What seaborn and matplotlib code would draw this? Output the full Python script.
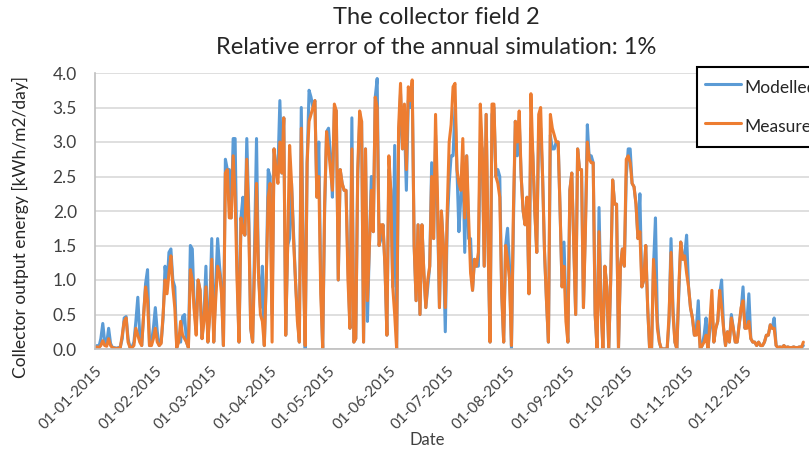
import matplotlib
matplotlib.use("Agg")
import matplotlib.pyplot as plt
import seaborn as sns
import pandas as pd
import numpy as np

# ---- data (daily values, kWh/m2/day) ----
start_date = "2015-01-01"
series_names = ["Modelled", "Measured"]
title_lines = ["The collector field 2", "Relative error of the annual simulation: 1%"]

modelled = [
    # Jan
    0.02, 0.05, 0.03, 0.15, 0.37, 0.10, 0.08, 0.30, 0.08, 0.02, 0.02, 0.01, 0.02, 0.03, 0.15, 0.45,
    0.47, 0.15, 0.02, 0.03, 0.10, 0.40, 0.75, 0.20, 0.05, 0.50, 0.95, 1.15, 0.05, 0.10, 0.30,
    # Feb
    0.60, 0.25, 0.05, 0.10, 0.45, 1.20, 0.90, 1.40, 1.45, 1.00, 0.90, 0.02, 0.15, 0.10, 0.47, 0.50,
    0.10, 0.02, 1.50, 1.45, 0.60, 0.30, 1.00, 0.85, 0.15, 0.50, 1.20, 0.10,
    # Mar
    0.60, 1.60, 0.10, 0.90, 1.60, 1.20, 0.90, 0.05, 2.75, 2.60, 2.60, 1.90, 3.05, 3.05, 1.20, 0.10,
    1.90, 2.20, 1.65, 3.05, 2.00, 0.30, 0.10, 1.50, 3.05, 1.10, 0.60, 1.20, 0.05, 1.00, 2.60,
    # Apr
    2.50, 0.50, 2.90, 2.60, 2.60, 3.60, 2.55, 3.35, 0.20, 1.50, 1.60, 2.40, 1.70, 1.00, 0.50, 0.10,
    3.50, 1.50, 0.00, 2.70, 3.75, 3.65, 3.50, 3.60, 2.20, 3.00, 1.00, 0.00, 2.00, 3.15,
    # May
    3.20, 2.80, 2.20, 3.50, 3.45, 1.00, 2.60, 2.40, 2.30, 2.30, 1.20, 0.30, 3.35, 0.10, 0.15, 2.50,
    3.30, 3.30, 0.10, 2.90, 0.40, 1.50, 2.50, 1.70, 3.65, 3.92, 1.50, 1.60, 1.80, 1.20, 0.20,
    # Jun
    2.60, 2.30, 0.90, 2.95, 0.00, 3.00, 3.70, 2.90, 3.30, 2.30, 3.60, 3.50, 3.80, 1.50, 0.70, 1.80,
    0.50, 1.80, 1.10, 0.60, 0.90, 1.20, 2.70, 1.60, 3.10, 2.00, 0.60, 2.00, 1.50, 0.25,
    # Jul
    1.80, 2.40, 2.80, 2.80, 3.50, 2.60, 1.70, 2.20, 2.80, 1.40, 2.80, 1.60, 1.60, 0.85, 1.30, 1.20,
    1.20, 3.00, 2.90, 1.20, 3.40, 1.50, 0.10, 3.40, 3.50, 2.50, 2.60, 2.50, 0.80, 0.10, 1.50,
    # Aug
    1.75, 1.20, 0.00, 1.80, 3.30, 2.80, 3.30, 2.50, 2.00, 1.80, 2.20, 0.80, 3.20, 2.80, 2.00, 1.40,
    3.20, 3.20, 2.50, 1.40, 0.70, 0.10, 3.10, 2.90, 2.90, 3.00, 3.00, 2.00, 0.90, 1.55, 0.60,
    # Sep
    0.10, 2.30, 2.55, 1.50, 0.50, 2.90, 2.60, 2.60, 0.60, 1.80, 3.25, 2.75, 2.80, 2.70, 0.50, 0.00,
    2.05, 0.70, 0.00, 1.20, 0.90, 0.00, 1.00, 2.45, 2.10, 2.10, 0.00, 1.20, 1.45, 1.20,
    # Oct
    2.50, 2.90, 2.90, 2.40, 2.35, 2.10, 1.60, 2.25, 0.90, 1.00, 1.50, 0.60, 0.00, 0.00, 1.20, 1.90,
    0.40, 0.10, 0.00, 0.00, 0.00, 0.00, 0.40, 1.60, 0.60, 0.10, 0.00, 0.80, 1.55, 1.30, 1.35,
    # Nov
    1.65, 0.90, 0.60, 0.45, 0.20, 0.30, 0.70, 0.00, 0.05, 0.20, 0.45, 0.00, 0.30, 0.60, 0.10, 0.30,
    0.40, 0.80, 1.00, 0.30, 0.05, 0.25, 0.10, 0.50, 0.30, 0.10, 0.10, 0.35, 0.55, 0.90,
    # Dec
    0.30, 0.40, 0.80, 0.15, 0.10, 0.10, 0.05, 0.10, 0.05, 0.05, 0.10, 0.20, 0.20, 0.35, 0.30, 0.45,
    0.05, 0.02, 0.03, 0.02, 0.05, 0.02, 0.03, 0.02, 0.02, 0.03, 0.02, 0.02, 0.03, 0.02, 0.05,
]

measured = [
    # Jan
    0.02, 0.03, 0.02, 0.05, 0.12, 0.05, 0.04, 0.15, 0.05, 0.02, 0.01, 0.01, 0.01, 0.02, 0.20, 0.40,
    0.45, 0.10, 0.02, 0.02, 0.05, 0.30, 0.20, 0.10, 0.05, 0.50, 0.90, 0.70, 0.05, 0.05, 0.15,
    # Feb
    0.30, 0.10, 0.05, 0.08, 0.50, 1.00, 0.80, 1.10, 1.35, 0.90, 0.60, 0.02, 0.10, 0.40, 0.20, 0.15,
    0.10, 0.02, 1.15, 1.00, 0.55, 0.20, 1.00, 0.85, 0.15, 0.40, 0.90, 0.10,
    # Mar
    0.50, 1.30, 0.10, 0.70, 1.20, 1.10, 0.80, 0.05, 2.55, 2.60, 1.90, 1.90, 2.80, 2.20, 1.00, 0.10,
    1.90, 1.70, 1.65, 2.75, 1.80, 0.30, 0.10, 1.20, 2.40, 1.10, 0.50, 0.40, 0.05, 1.00, 2.20,
    # Apr
    2.40, 0.10, 2.90, 2.60, 2.40, 3.00, 2.55, 3.35, 0.20, 1.50, 2.95, 2.40, 1.60, 1.00, 0.40, 0.10,
    3.20, 1.20, 0.05, 2.70, 3.30, 3.40, 3.50, 3.60, 2.20, 2.50, 0.80, 0.02, 2.10, 3.15,
    # May
    2.90, 2.60, 2.30, 3.55, 3.45, 1.00, 2.60, 2.40, 2.30, 2.30, 1.00, 0.30, 2.90, 0.10, 0.15, 2.60,
    3.45, 3.30, 0.10, 2.90, 0.70, 1.50, 2.30, 1.70, 3.65, 3.50, 1.50, 1.80, 1.80, 1.20, 0.20,
    # Jun
    2.80, 2.30, 0.90, 0.50, 0.00, 3.20, 3.85, 2.90, 3.55, 2.60, 3.80, 3.60, 3.90, 1.50, 0.70, 1.80,
    0.50, 1.80, 1.10, 0.60, 1.00, 1.20, 2.50, 1.60, 3.40, 2.20, 0.60, 2.00, 1.50, 0.60,
    # Jul
    2.00, 3.00, 3.25, 3.80, 3.85, 2.60, 2.40, 2.30, 3.05, 1.90, 2.80, 1.90, 1.10, 0.85, 1.30, 1.20,
    1.40, 3.55, 2.90, 1.20, 3.40, 1.50, 0.10, 3.55, 3.55, 2.50, 2.40, 2.20, 0.80, 0.10, 1.50,
    # Aug
    1.30, 1.00, 0.05, 2.00, 3.30, 3.00, 3.45, 2.50, 2.00, 1.80, 2.20, 0.80, 3.70, 2.80, 2.00, 1.40,
    3.40, 3.50, 2.50, 1.40, 0.70, 0.10, 3.40, 3.20, 3.10, 3.00, 3.00, 2.00, 0.90, 1.20, 0.40,
    # Sep
    0.10, 2.30, 2.55, 1.50, 0.50, 2.90, 2.60, 2.60, 0.60, 1.70, 3.00, 2.75, 2.70, 2.70, 0.50, 0.00,
    1.70, 0.60, 0.00, 1.20, 0.90, 0.00, 1.00, 2.45, 2.10, 2.10, 0.00, 1.20, 1.45, 1.20,
    # Oct
    2.75, 2.80, 2.70, 2.40, 2.35, 2.10, 1.60, 1.70, 0.90, 1.00, 1.50, 0.60, 0.00, 0.00, 1.30, 0.90,
    0.30, 0.10, 0.00, 0.00, 0.00, 0.00, 0.50, 1.40, 0.50, 0.10, 0.00, 0.90, 1.55, 1.30, 1.35,
    # Nov
    1.10, 0.90, 0.60, 0.45, 0.20, 0.20, 0.40, 0.00, 0.05, 0.10, 0.20, 0.00, 0.40, 0.85, 0.10, 0.30,
    0.40, 0.85, 0.60, 0.30, 0.05, 0.25, 0.10, 0.45, 0.30, 0.10, 0.10, 0.35, 0.60, 0.70,
    # Dec
    0.30, 0.30, 0.40, 0.15, 0.10, 0.10, 0.05, 0.10, 0.05, 0.05, 0.10, 0.20, 0.20, 0.35, 0.30, 0.30,
    0.05, 0.02, 0.03, 0.02, 0.05, 0.02, 0.03, 0.02, 0.02, 0.03, 0.02, 0.02, 0.03, 0.02, 0.10,
]

y_ticks = [0.0, 0.5, 1.0, 1.5, 2.0, 2.5, 3.0, 3.5, 4.0]
x_tick_dates = pd.date_range(start_date, periods=12, freq="MS")
x_tick_labels = [d.strftime("%d-%m-%Y") for d in x_tick_dates]

# ---- build long table ----
df = pd.concat([
    pd.DataFrame({"Date": pd.date_range(start_date, periods=len(modelled), freq="D"),
                  "value": modelled, "series": series_names[0]}),
    pd.DataFrame({"Date": pd.date_range(start_date, periods=len(measured), freq="D"),
                  "value": measured, "series": series_names[1]}),
], ignore_index=True)

sns.set_theme(style="white")
plt.rcParams["font.family"] = ["Lato", "DejaVu Sans"]

W, H = 809, 450
fig = plt.figure(figsize=(W / 100, H / 100), dpi=100)
ax = fig.add_axes([95 / W, 1 - 349 / H, (W - 95) / W, (349 - 73) / H])

palette = {"Modelled": "#5B9BD5", "Measured": "#ED7D31"}
sns.lineplot(data=df, x="Date", y="value", hue="series", hue_order=series_names,
             palette=palette, linewidth=2.2, ax=ax, legend=True)

x0 = pd.Timestamp(start_date)
ax.set_xlim(x0, x0 + pd.Timedelta(days=366.9))
ax.set_ylim(0, 4.0)
ax.grid(axis="y", color="#d9d9d9", linewidth=1.2)
ax.grid(axis="x", visible=False)
ax.tick_params(axis="y", length=0, pad=13, labelsize=12.5, labelcolor="#404040")
ax.tick_params(axis="x", length=0, pad=11, labelsize=11, labelcolor="#404040")
ax.set_yticks(y_ticks)
ax.set_yticklabels([f"{v:.1f}" for v in y_ticks])
ax.set_xticks(x_tick_dates)
ax.set_xticklabels(x_tick_labels, rotation=45, ha="right", va="top", rotation_mode="anchor")

for s in ["top", "right"]:
    ax.spines[s].set_visible(False)
for s in ["left", "bottom"]:
    ax.spines[s].set_color("#bfbfbf")
    ax.spines[s].set_linewidth(1.2)

ax.set_xlabel("Date", fontsize=12, color="#404040")
ax.xaxis.set_label_coords(427 / W, 1 - 440 / H, transform=fig.transFigure)
ax.xaxis.label.set_va("center")
ax.set_ylabel("Collector output energy [kWh/m2/day]", fontsize=12.5, color="#262626")
ax.yaxis.set_label_coords(20 / W, 1 - 227 / H, transform=fig.transFigure)
ax.yaxis.label.set_va("center")

fig.text(436 / W, 1 - 18 / H, title_lines[0], ha="center", va="center", fontsize=17, color="#262626")
fig.text(436 / W, 1 - 48 / H, title_lines[1], ha="center", va="center", fontsize=17, color="#262626")

handles, labels = ax.get_legend_handles_labels()
leg = ax.legend(handles, labels, loc="upper left", bbox_to_anchor=(697 / W, 1 - 67 / H),
                bbox_transform=fig.transFigure, borderaxespad=0, fontsize=12.5,
                frameon=True, fancybox=False, edgecolor="black", framealpha=1,
                labelspacing=0.75, handlelength=2.1, handleheight=1.9,
                handletextpad=0.17, borderpad=0.45)
leg.get_frame().set_linewidth(1.5)
for t in leg.get_texts():
    t.set_color("#262626")

fig.savefig("out.png", dpi=100)
